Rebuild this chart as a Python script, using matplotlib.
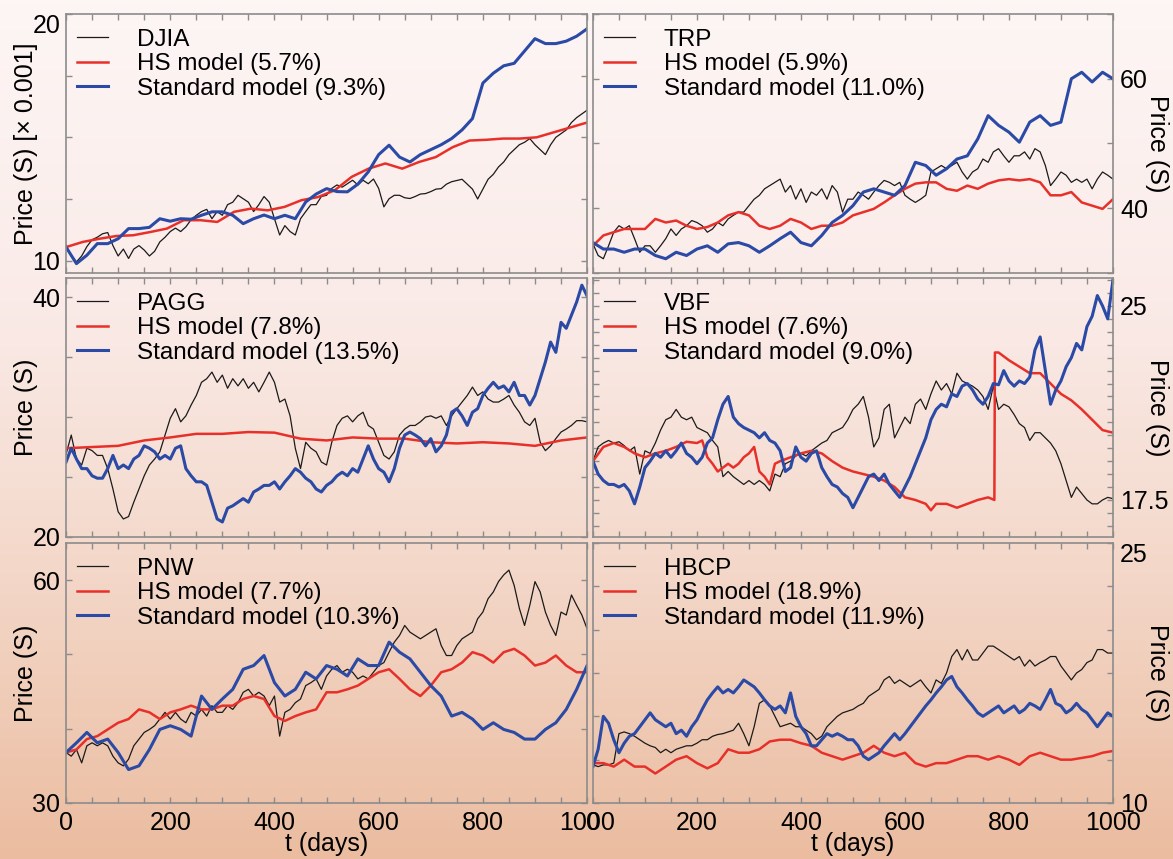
import matplotlib.pyplot as plt
import numpy as np
from matplotlib.colors import LinearSegmentedColormap

plt.rcParams['font.family'] = ['Liberation Sans', 'DejaVu Sans']

djia_price = [10.62, 10.19, 9.95, 10.19, 10.57, 10.85, 10.95, 11.09, 11.14, 10.61,
              10.19, 10.47, 10.09, 10.47, 10.61, 10.43, 10.19, 10.38, 10.76, 10.95,
              11.18, 11.32, 11.18, 11.37, 11.66, 11.84, 11.99, 12.08, 11.70, 11.99,
              11.84, 12.27, 12.37, 12.65, 12.51, 12.37, 11.99, 12.27, 12.60, 12.37,
              11.70, 11.04, 11.42, 11.18, 11.04, 11.70, 11.99, 12.27, 12.27, 12.60,
              12.65, 12.93, 13.07, 12.98, 13.12, 13.26, 13.07, 13.26, 13.12, 13.31,
              12.93, 12.18, 12.51, 12.65, 12.65, 12.55, 12.52, 12.6, 12.7, 12.72,
              12.8, 12.9, 12.92, 13.1, 13.2, 13.25, 13.3, 13.1, 12.9, 12.5,
              12.9, 13.3, 13.5, 13.8, 14.0, 14.3, 14.5, 14.7, 14.8, 14.95,
              14.7, 14.5, 14.3, 14.7, 15.0, 15.15, 15.3, 15.6, 15.8, 15.95, 16.1]
djia_hs = [10.55, 10.76, 10.89, 11.0, 11.03, 11.16, 11.30, 11.64, 11.64, 11.57, 11.98,
           12.11, 12.04, 12.18, 12.45, 12.58, 12.86, 13.40, 13.73, 13.94, 13.73, 14.0,
           14.2, 14.6, 14.87, 14.9, 14.95, 14.95, 15.0, 15.2, 15.4, 15.6]
djia_std = [10.55, 9.88, 10.22, 10.69, 10.69, 10.89, 11.30, 11.30, 11.35, 11.70,
            11.6, 11.70, 11.68, 11.84, 11.98, 11.98, 11.84, 11.5, 11.70, 11.85,
            11.70, 11.84, 11.70, 12.38, 12.7, 12.92, 12.8, 12.79, 13.1, 13.60,
            14.3, 14.68, 14.2, 14.0, 14.3, 14.5, 14.7, 14.95, 15.3, 15.76,
            17.2, 17.6, 17.9, 18.0, 18.5, 19.0, 18.8, 18.8, 18.9, 19.1, 19.4]

trp_price = [34.5, 32.7, 32.2, 34.2, 36.3, 37.3, 36.8, 37.3, 35.3, 33.2,
             34.2, 34.2, 33.2, 34.2, 35.3, 36.8, 35.8, 36.8, 37.3, 38.1,
             37.8, 37.3, 36.3, 36.8, 37.8, 37.3, 38.35, 38.9, 39.4, 39.4,
             40.4, 41.4, 42.0, 43.0, 43.5, 44.0, 44.5, 42.5, 43.5, 41.4,
             43.0, 40.9, 42.5, 42.0, 43.0, 41.4, 43.5, 42.5, 39.4, 41.4,
             41.4, 42.5, 42.0, 41.4, 42.5, 43.5, 44.3, 44.0, 43.5, 44.0,
             42.0, 41.4, 40.9, 41.4, 42.0, 45.6, 46.1, 46.6, 46.1, 46.6,
             47.1, 45.6, 44.5, 45.6, 46.1, 47.6, 47.1, 48.7, 49.2, 48.1,
             47.1, 48.1, 48.1, 48.7, 47.6, 49.2, 48.7, 46.6, 43.5, 44.5,
             45.6, 45.1, 44.0, 44.5, 44.0, 44.5, 43.0, 44.5, 45.6, 45.1, 44.5]
trp_hs = [34.2, 35.8, 36.3, 36.8, 36.8, 36.8, 38.35, 37.8, 38.1, 37.3, 36.8,
          37.1, 37.8, 38.9, 39.4, 38.9, 37.3, 36.8, 37.3, 38.35, 37.8, 36.8,
          37.3, 37.3, 37.8, 38.9, 39.4, 39.9, 40.9, 42.0, 43.0, 43.8, 44.0,
          44.0, 43.0, 42.7, 43.5, 43.0, 43.8, 44.3, 44.5, 44.3, 44.5, 44.0,
          42.0, 42.0, 42.5, 40.9, 40.4, 39.9, 41.4]
trp_std = [34.7, 33.7, 33.7, 33.2, 33.7, 33.7, 32.7, 32.2, 33.2, 32.7, 33.7,
           34.2, 33.2, 34.5, 34.7, 34.2, 33.2, 34.2, 35.3, 36.3, 34.7, 34.2,
           35.8, 37.8, 38.9, 40.4, 42.5, 43.0, 42.5, 42.0, 43.5, 47.1, 46.6,
           45.1, 46.1, 47.6, 48.1, 50.7, 54.3, 52.8, 51.75, 50.2, 53.3, 54.3,
           52.8, 53.3, 60.0, 61.0, 59.5, 61.0, 60.0]

pagg_price = [26.9, 28.5, 26.5, 26.0, 27.4, 27.2, 26.8, 26.8, 25.7, 24.0,
              22.1, 21.5, 21.7, 22.9, 24.0, 25.1, 26.0, 26.5, 27.1, 28.5,
              29.9, 30.7, 29.6, 30.1, 31.0, 31.8, 32.9, 33.2, 33.75, 32.9,
              33.5, 32.4, 33.2, 32.6, 33.2, 32.4, 32.9, 32.1, 32.9, 33.75,
              32.9, 31.25, 31.5, 30.1, 27.4, 25.7, 27.9, 27.4, 27.1, 26.25,
              26.0, 27.9, 29.3, 29.9, 30.1, 29.6, 30.1, 30.4, 29.3, 29.0,
              27.9, 26.8, 26.5, 27.1, 28.5, 29.0, 29.3, 29.3, 29.6, 30.0,
              30.1, 29.9, 30.1, 29.3, 30.1, 30.7, 31.25, 31.8, 32.5, 31.8,
              32.1, 31.5, 31.25, 31.25, 31.5, 31.8, 31.0, 30.4, 29.6, 29.3,
              29.9, 27.9, 27.2, 27.6, 28.2, 28.75, 29.0, 29.3, 29.7, 29.7, 29.6]
pagg_hs = [27.4, 27.5, 27.6, 28.05, 28.3, 28.6, 28.6, 28.75, 28.7, 28.2, 28.05,
           28.3, 28.2, 28.2, 27.9, 27.8, 27.9, 27.8, 27.6, 28.05, 28.3]
pagg_std = [26.25, 27.4, 26.5, 25.7, 25.7, 25.1, 24.9, 24.9, 25.7, 26.8,
            25.7, 26.0, 25.7, 26.5, 26.8, 27.6, 27.4, 27.1, 26.5, 26.8,
            26.5, 27.4, 27.6, 25.7, 25.1, 24.6, 24.6, 24.3, 22.9, 21.5,
            21.25, 22.4, 22.6, 22.9, 23.2, 22.9, 23.75, 24.0, 24.3, 24.3,
            24.6, 24.0, 24.6, 25.1, 25.7, 25.4, 24.9, 24.6, 24.0, 23.75,
            24.3, 24.6, 25.1, 25.4, 25.1, 25.7, 25.4, 26.5, 27.6, 26.5,
            25.7, 25.4, 24.6, 25.7, 27.4, 28.5, 28.75, 28.5, 28.2, 27.6,
            28.2, 27.1, 27.6, 28.5, 30.4, 30.7, 30.1, 29.3, 30.4, 30.7,
            31.8, 32.4, 32.9, 32.4, 32.6, 32.1, 32.9, 31.8, 31.8, 31.0,
            31.8, 33.2, 34.6, 36.25, 35.4, 37.9, 37.4, 38.5, 39.6, 41.0, 40.1]

vbf_price = [19.0, 19.55, 19.7, 19.8, 19.7, 19.75, 19.6, 19.4, 19.55, 18.5,
             19.4, 19.3, 19.7, 20.2, 20.6, 20.7, 21.0, 20.7, 20.6, 20.7,
             20.3, 20.2, 20.1, 19.8, 19.55, 18.4, 18.6, 18.4, 18.25, 18.1,
             18.25, 18.1, 18.25, 18.1, 17.85, 18.5, 18.4, 18.9, 19.0, 19.2,
             19.3, 19.2, 19.4, 19.55, 19.7, 19.8, 20.1, 20.2, 20.3, 20.6,
             21.0, 21.2, 21.5, 20.7, 19.55, 19.9, 21.0, 21.2, 19.9, 20.3,
             20.7, 20.45, 21.2, 21.4, 21.0, 21.6, 22.1, 21.75, 22.0, 21.6,
             22.4, 22.1, 22.0, 21.9, 21.75, 21.5, 21.0, 21.9, 21.0, 21.2,
             21.1, 20.8, 20.45, 20.3, 19.8, 20.1, 20.1, 19.9, 19.7, 19.4,
             18.9, 18.25, 17.6, 18.0, 17.75, 17.5, 17.35, 17.35, 17.5, 17.6, 17.55]
vbf_hs_days = [0, 20, 40, 60, 80, 100, 120, 140, 160, 180, 200, 210, 220, 230, 240,
               250, 260, 270, 280, 290, 300, 310, 320, 330, 340, 350, 360, 380, 400,
               420, 440, 460, 480, 500, 520, 540, 560, 580, 600, 620, 640, 650, 660,
               680, 700, 720, 740, 760, 772, 773, 780, 800, 820, 840, 860, 880, 900,
               920, 940, 960, 980, 1000]
vbf_hs = [19.0, 19.55, 19.7, 19.55, 19.3, 19.15, 19.3, 19.4, 19.55, 19.75, 19.7,
          19.8, 19.15, 18.9, 18.6, 18.75, 18.9, 18.75, 18.9, 19.15, 19.3, 19.55,
          18.6, 18.4, 18.1, 18.9, 19.0, 19.15, 19.3, 19.4, 19.3, 19.0, 18.75,
          18.6, 18.5, 18.4, 18.25, 18.0, 17.6, 17.5, 17.35, 17.1, 17.35, 17.35,
          17.2, 17.35, 17.5, 17.6, 17.5, 23.2, 23.2, 22.9, 22.65, 22.4, 22.4,
          22.0, 21.6, 21.35, 21.0, 20.6, 20.2, 20.1]
vbf_std = [19.0, 18.5, 18.25, 18.1, 18.1, 18.0, 18.1, 17.85, 17.35, 18.0,
           18.75, 19.0, 19.3, 19.15, 19.4, 19.15, 19.4, 19.7, 19.3, 19.15,
           18.9, 19.15, 19.7, 19.9, 20.6, 21.2, 21.5, 20.7, 20.45, 20.3,
           20.2, 20.1, 19.9, 20.1, 19.8, 19.7, 19.4, 18.6, 18.75, 19.55,
           19.15, 19.0, 19.3, 19.4, 18.75, 18.4, 18.1, 18.0, 17.75, 17.6,
           17.2, 17.6, 18.0, 18.4, 18.5, 18.25, 18.5, 18.1, 17.85, 17.6,
           18.0, 18.4, 18.9, 19.4, 19.9, 20.6, 21.0, 21.2, 21.1, 21.6,
           21.5, 21.9, 22.0, 21.75, 21.4, 21.2, 21.5, 22.0, 21.95, 22.5,
           22.1, 21.9, 22.1, 22.0, 22.25, 23.3, 23.8, 22.5, 21.2, 21.75,
           22.1, 22.65, 23.0, 23.55, 23.3, 24.2, 24.6, 25.4, 25.0, 24.5, 26.0]

pnw_price = [36.8, 36.3, 37.2, 35.4, 37.7, 38.1, 37.7, 38.1, 37.7, 36.3,
             35.4, 35.0, 35.9, 37.7, 38.6, 39.5, 39.9, 40.4, 41.3, 42.2,
             41.3, 42.2, 41.3, 40.8, 42.2, 41.7, 42.6, 41.7, 43.1, 42.2,
             42.2, 43.1, 42.6, 43.5, 44.9, 45.3, 44.4, 44.9, 44.4, 43.1,
             44.4, 39.0, 42.2, 42.6, 43.5, 44.0, 45.8, 46.2, 46.7, 45.3,
             47.1, 48.0, 48.5, 47.6, 48.0, 47.6, 46.7, 47.1, 46.7, 47.6,
             48.5, 48.9, 50.3, 51.65, 52.55, 53.9, 53.0, 52.55, 52.1, 52.55,
             53.0, 53.45, 51.2, 49.85, 49.85, 51.2, 52.1, 52.55, 53.0, 54.8,
             55.7, 57.5, 58.4, 59.8, 60.7, 61.35, 59.3, 56.2, 53.9, 56.6,
             59.8, 58.4, 55.7, 53.9, 52.55, 55.7, 55.3, 58.0, 56.6, 55.3, 53.45]
pnw_hs = [36.8, 37.2, 38.6, 39.0, 39.9, 40.8, 41.3, 42.6, 42.2, 41.3, 42.2,
          42.6, 43.1, 42.6, 42.6, 43.1, 43.1, 44.0, 44.4, 44.0, 41.7, 41.05,
          41.7, 42.2, 42.6, 44.9, 44.9, 45.3, 45.8, 46.7, 47.6, 48.0, 46.7,
          45.3, 44.4, 45.8, 47.6, 48.0, 48.9, 50.3, 49.85, 48.9, 50.3, 50.75,
          49.85, 48.5, 48.9, 49.85, 48.5, 47.6, 47.6]
pnw_std = [36.8, 38.1, 39.5, 38.1, 38.6, 36.8, 34.5, 35.0, 37.2, 39.9, 40.4,
           39.9, 39.0, 44.4, 42.6, 44.0, 45.3, 48.0, 48.5, 49.85, 46.2, 44.4,
           45.3, 47.6, 46.7, 48.5, 48.0, 47.1, 49.4, 48.5, 48.5, 51.65, 50.3,
           49.4, 47.6, 45.8, 44.4, 41.7, 42.2, 41.3, 39.9, 40.8, 39.9, 39.5,
           38.6, 38.6, 39.9, 40.8, 42.6, 45.3, 48.5]

hbcp_price = [12.2, 12.1, 12.2, 12.2, 12.3, 14.0, 14.1, 14.0, 13.85, 13.65,
              13.45, 13.3, 13.2, 12.9, 13.1, 12.9, 13.1, 13.2, 13.3, 13.3,
              13.45, 13.65, 13.65, 13.85, 13.95, 14.0, 14.1, 14.2, 14.6, 14.0,
              13.3, 14.4, 15.75, 15.95, 15.6, 15.0, 14.4, 14.5, 14.6, 14.4,
              14.4, 14.2, 14.0, 13.65, 13.85, 14.4, 14.7, 15.0, 15.2, 15.3,
              15.4, 15.6, 15.75, 16.15, 16.35, 16.55, 17.1, 17.3, 16.9, 17.1,
              16.9, 16.7, 16.9, 17.1, 16.7, 16.35, 17.1, 16.9, 17.5, 18.45,
              18.85, 18.25, 18.85, 18.25, 18.25, 18.65, 19.05, 19.05, 18.85, 18.65,
              18.45, 18.25, 18.45, 17.9, 18.25, 17.9, 18.1, 18.25, 18.45, 18.45,
              17.9, 17.5, 17.1, 17.5, 17.7, 18.1, 18.25, 18.85, 18.85, 18.65, 18.65]
hbcp_hs = [12.3, 12.3, 12.1, 12.5, 12.1, 12.1, 11.7, 12.1, 12.5, 12.7, 12.3,
           12.0, 12.3, 13.1, 12.9, 12.9, 13.1, 13.55, 13.65, 13.65, 13.45, 13.3,
           12.9, 12.7, 12.5, 12.7, 12.9, 13.3, 12.9, 12.7, 12.9, 12.3, 12.1,
           12.3, 12.3, 12.5, 12.7, 12.7, 12.5, 12.7, 12.5, 12.2, 12.7, 12.9,
           12.7, 12.5, 12.5, 12.6, 12.7, 12.9, 13.0]
hbcp_std = [12.1, 13.1, 15.0, 14.6, 13.65, 12.9, 13.45, 13.85, 14.0, 14.4,
            14.8, 15.2, 14.8, 14.6, 14.4, 14.6, 14.0, 14.2, 13.85, 14.4,
            14.8, 15.4, 15.95, 16.35, 16.7, 16.35, 16.55, 16.35, 16.7, 17.1,
            16.9, 16.7, 16.35, 15.95, 15.6, 15.4, 15.6, 15.2, 16.35, 15.0,
            14.4, 14.0, 13.3, 13.3, 13.65, 14.0, 13.85, 14.0, 13.85, 13.65,
            13.65, 13.3, 12.7, 12.5, 12.7, 12.9, 13.3, 13.65, 14.0, 13.65,
            14.0, 14.4, 14.8, 15.2, 15.6, 15.95, 16.35, 16.7, 17.1, 17.3,
            16.7, 16.35, 15.95, 15.6, 15.2, 15.0, 15.2, 15.4, 15.6, 15.2,
            15.4, 15.6, 15.2, 15.4, 15.75, 15.6, 15.4, 15.95, 16.55, 15.75,
            15.6, 15.2, 15.4, 15.75, 15.4, 15.2, 14.8, 14.4, 14.8, 15.2, 15.0]


def even_days(vals):
    return np.linspace(0, 1000, len(vals))


panels = [
    dict(pos=[0.0563, 0.6822, 0.4442, 0.3015], name='DJIA', hs_pct='5.7%', std_pct='9.3%',
         price=djia_price, hs=(even_days(djia_hs), djia_hs), std=djia_std,
         ylim=(9.5, 20), yticks=[10, 12.5, 15, 17.5, 20], ylabels={10: '10', 20: '20'},
         side='left', ylabel='Price (S) [× 0.001]'),
    dict(pos=[0.5055, 0.6822, 0.4433, 0.3015], name='TRP', hs_pct='5.9%', std_pct='11.0%',
         price=trp_price, hs=(even_days(trp_hs), trp_hs), std=trp_std,
         ylim=(30, 70), yticks=[30, 40, 50, 60, 70], ylabels={40: '40', 60: '60'},
         side='right', ylabel='Price (S)'),
    dict(pos=[0.0563, 0.3749, 0.4442, 0.3015], name='PAGG', hs_pct='7.8%', std_pct='13.5%',
         price=pagg_price, hs=(even_days(pagg_hs), pagg_hs), std=pagg_std,
         ylim=(20, 41.6), yticks=[20, 25, 30, 35, 40], ylabels={20: '20', 40: '40'},
         side='left', ylabel='Price (S)'),
    dict(pos=[0.5055, 0.3749, 0.4433, 0.3015], name='VBF', hs_pct='7.6%', std_pct='9.0%',
         price=vbf_price, hs=(vbf_hs_days, vbf_hs), std=vbf_std,
         ylim=(16.07, 26.08), yticks=list(np.arange(16.5, 26.01, 0.5)),
         ylabels={17.5: '17.5', 25: '25'}, side='right', ylabel='Price (S)'),
    dict(pos=[0.0563, 0.0652, 0.4442, 0.3027], name='PNW', hs_pct='7.7%', std_pct='10.3%',
         price=pnw_price, hs=(even_days(pnw_hs), pnw_hs), std=pnw_std,
         ylim=(30, 65), yticks=[30, 40, 50, 60], ylabels={30: '30', 60: '60'},
         side='left', ylabel='Price (S)'),
    dict(pos=[0.5055, 0.0652, 0.4433, 0.3027], name='HBCP', hs_pct='18.9%', std_pct='11.9%',
         price=hbcp_price, hs=(even_days(hbcp_hs), hbcp_hs), std=hbcp_std,
         ylim=(10, 25), yticks=[10, 12.5, 15, 17.5, 20, 22.5, 25], ylabels={10: '10', 25: '25'},
         side='right', ylabel='Price (S)'),
]

fig = plt.figure(figsize=(11.73, 8.59), dpi=100)

# background gradient, whitish pink at the top to peach at the bottom
bg = fig.add_axes([0, 0, 1, 1], zorder=-10)
grad_cmap = LinearSegmentedColormap.from_list('bg', [
    (0.0, (253/255, 246/255, 245/255)),
    (0.35, (250/255, 235/255, 232/255)),
    (0.6, (245/255, 220/255, 208/255)),
    (0.8, (240/255, 205/255, 185/255)),
    (1.0, (235/255, 188/255, 160/255))])
bg.imshow(np.linspace(0, 1, 256).reshape(-1, 1), aspect='auto', cmap=grad_cmap,
          extent=[0, 1, 0, 1])
bg.axis('off')

frame_col = '#8c8c8c'
for i, p in enumerate(panels):
    ax = fig.add_axes(p['pos'])
    ax.set_facecolor('none')

    ax.plot(even_days(p['price']), p['price'], color='#1a1a1a', lw=0.9, label=p['name'])
    ax.plot(p['hs'][0], p['hs'][1], color='#e8302a', lw=1.8,
            label='HS model (%s)' % p['hs_pct'])
    ax.plot(even_days(p['std']), p['std'], color='#2a4aa6', lw=2.2,
            label='Standard model (%s)' % p['std_pct'])

    ax.set_xlim(0, 1000)
    ax.set_ylim(*p['ylim'])
    xt = np.arange(0, 1001, 50)
    ax.set_xticks(xt)
    ax.set_xticklabels([str(t) if t % 200 == 0 else '' for t in xt])
    ax.set_yticks(p['yticks'])
    ax.set_yticklabels([p['ylabels'].get(round(t, 2), '') for t in p['yticks']])

    bottom_row = i >= 4
    ax.tick_params(which='both', direction='in', length=4, width=1, color=frame_col,
                   top=True, bottom=True, left=True, right=True, labelsize=18,
                   labelbottom=bottom_row)
    ax.tick_params(axis='x', pad=6)
    if p['side'] == 'right':
        ax.tick_params(axis='y', labelleft=False, labelright=True, pad=5)
        ax.yaxis.set_label_position('right')
        ax.set_ylabel(p['ylabel'], fontsize=18, rotation=270, va='center', ha='center',
                      rotation_mode='default')
        ax.yaxis.set_label_coords(1.085, 0.5)
    else:
        ax.tick_params(axis='y', pad=4)
        ax.set_ylabel(p['ylabel'], fontsize=18)
        ax.yaxis.set_label_coords(-0.053, 0.5)

    # labels sitting on the top edge are pushed down inside the frame
    for tk, val in zip(ax.yaxis.get_major_ticks(), p['yticks']):
        if val == p['ylim'][1]:
            tk.label1.set_verticalalignment('top')
            tk.label2.set_verticalalignment('top')

    if bottom_row:
        ax.set_xlabel('t (days)', fontsize=18)
        ax.xaxis.set_label_coords(0.5, -0.11)

    for s in ax.spines.values():
        s.set_color(frame_col)
        s.set_linewidth(1.2)

    ax.legend(loc='upper left', bbox_to_anchor=(0, 0.985), frameon=False, fontsize=17.5,
              handlelength=1.27, handletextpad=1.2, labelspacing=0.1, borderpad=0,
              borderaxespad=0.45)

fig.savefig('out.png', dpi=100)
